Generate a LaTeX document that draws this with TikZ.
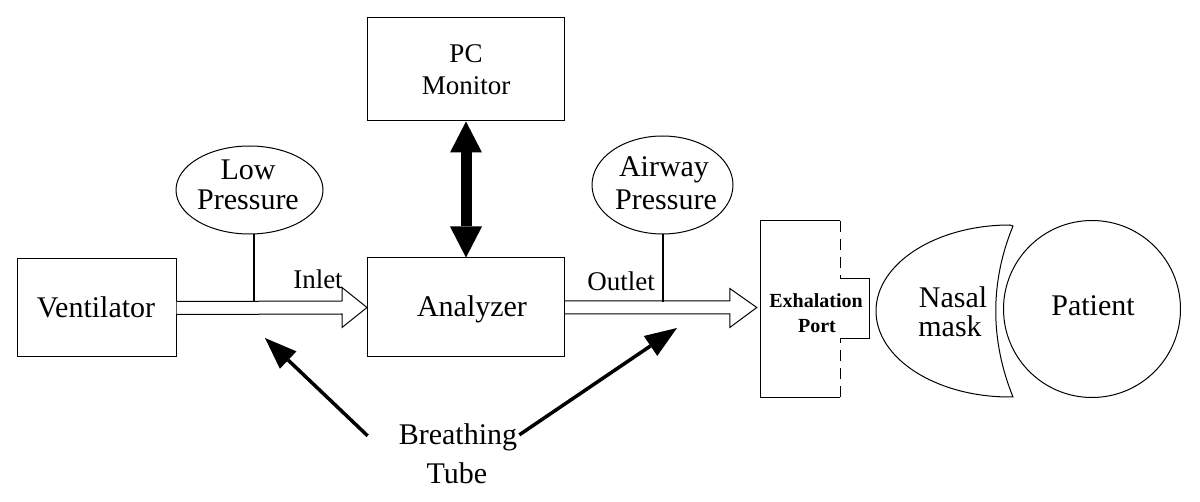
\documentclass[tikz,border=0pt]{standalone}
\usepackage{fontspec}
\setmainfont{Liberation Serif}
\usetikzlibrary{arrows.meta,shapes.geometric,calc}
\begin{document}
\begin{tikzpicture}[x=1pt,y=-1pt,
  box/.style={draw, line width=1pt, rectangle, inner sep=0pt},
  oval/.style={draw, line width=1pt, ellipse, inner sep=0pt},
  txt/.style={font=\fontsize{30}{30}\selectfont, inner sep=0pt, anchor=base},
  txts/.style={font=\fontsize{27}{30}\selectfont, inner sep=0pt, anchor=base},
  txtb/.style={font=\fontsize{20}{20}\selectfont\bfseries, inner sep=0pt, anchor=base},
  hollow/.style={draw, line width=1pt, fill=white, line join=miter},
  stem/.style={draw, line width=2.5pt},
  dbl/.style={draw, line width=11pt, {Triangle[width=32pt,length=31pt,line width=0pt]}-{Triangle[width=32pt,length=31pt,line width=0pt]}},
  bto/.style={draw, line width=3.5pt, -{Triangle[width=24pt,length=32pt,line width=0pt]}},
]
\useasboundingbox (0,0) rectangle (1200,502);

% boxes
\node[box, minimum width=159, minimum height=98] (vent) at (96.5,308) {};
\node[box, minimum width=197, minimum height=99] (ana) at (466,307.5) {};
\node[box, minimum width=197, minimum height=103] (pc) at (466,69.5) {};
\node[inner sep=0pt, minimum width=79, minimum height=176] (port) at (800.5,309) {};

% ellipses and circle
\node[oval, minimum width=147, minimum height=88] (lp) at (249.5,190) {};
\node[oval, minimum width=141, minimum height=98] (ap) at (662.5,185) {};
\node[draw, line width=1pt, circle, minimum size=177, inner sep=0pt] (pat) at (1092,309) {};

% texts
\node[txt] (ventT) at (96,318) {Ventilator};
\node[txt] (anaT) at (472,317) {Analyzer};
\node[txts] (pcT1) at (466,63) {PC};
\node[txts] (pcT2) at (466,95) {Monitor};
\node[txt] (lpT1) at (248,180) {Low};
\node[txt] (lpT2) at (248,210) {Pressure};
\node[txt] (apT1) at (664,177) {Airway};
\node[txt] (apT2) at (666,210) {Pressure};
\node[txts] (inlet) at (318,289) {Inlet};
\node[txts] (outlet) at (621,291) {Outlet};
\node[txtb] (exT1) at (816,308) {Exhalation};
\node[txtb] (exT2) at (817,333) {Port};
\node[txt] (maskT1) at (953,308) {Nasal};
\node[txt] (maskT2) at (950,337) {mask};
\node[txt] (patT) at (1093,316) {Patient};
\node[txt] (breath) at (458,445) {Breathing};
\node[txt] (tube) at (457,483) {Tube};

% exhalation port outline
\draw[line width=1pt] (port.north east) -- (port.north west) -- (port.south west) -- (port.south east);
\draw[line width=1pt, dash pattern=on 11pt off 7pt] (port.south east) -- ($(port.east)+(0,30)$);
\draw[line width=1pt, dash pattern=on 11pt off 7pt] (port.north east) -- ($(port.east)+(0,-30)$);
\draw[line width=1pt] ($(port.east)+(0,-30)$) -- ++(29,0) -- ++(0,60) -- ($(port.east)+(0,30)$);

% nasal mask
\draw[line width=1pt] (1010,225) .. controls (936,225) and (876,263.5) .. (876,311)
  .. controls (876,358.5) and (936,397) .. (1010,397) -- (1013,397)
  .. controls (990,340) and (990,282) .. (1013,226) -- cycle;

% hollow arrows
\draw[hollow] ($(vent.east)+(0,-6.5)$) -- ($(ana.west)+(-25,-6.5)$) -- ($(ana.west)+(-25,-20)$)
  -- (ana.west) -- ($(ana.west)+(-25,20)$) -- ($(ana.west)+(-25,6.5)$) -- ($(vent.east)+(0,6.5)$);
\coordinate (otip) at ($(port.west |- ana.east)+(-4,0)$);
\draw[hollow] ($(ana.east)+(0,-6.5)$) -- ($(otip)+(-27,-6.5)$) -- ($(otip)+(-27,-19)$)
  -- (otip) -- ($(otip)+(-27,20)$) -- ($(otip)+(-27,6.5)$) -- ($(ana.east)+(0,6.5)$);

% sensor stems
\draw[stem] ($(lp.south)+(4.5,0)$) -- ($(lp.south)+(4.5,68)$);
\draw[stem] ($(ap.south)+(0.5,0)$) -- ($(ap.south)+(0.5,68)$);

% PC <-> Analyzer
\draw[dbl] (pc.south) -- (ana.north);

% breathing tube pointers
\coordinate (bt1) at (265,338);
\coordinate (bt2) at (677,328);
\draw[bto] ($(breath.west)+(-31,-2)$) -- (bt1);
\draw[bto] ($(breath.east)+(2,-3)$) -- (bt2);
\end{tikzpicture}
\end{document}
